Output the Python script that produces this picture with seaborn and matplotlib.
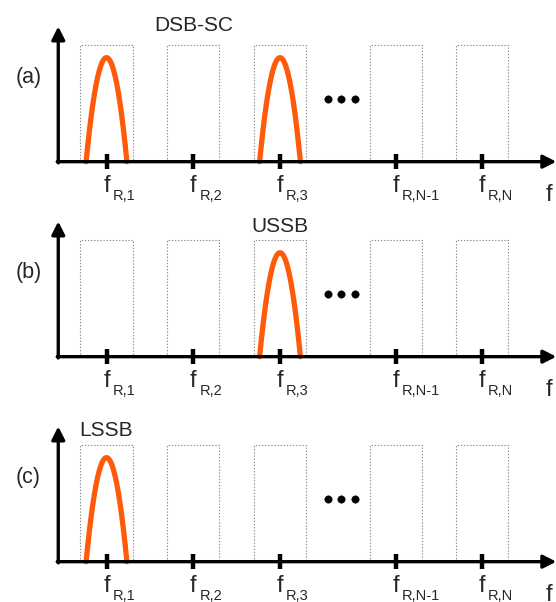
import numpy as np
import pandas as pd
import seaborn as sns
import matplotlib.pyplot as plt

# channel grid (units of channel spacing), subscripts of the tick labels
channel_pos = [1, 2, 3, 4.335, 5.33]
channel_sub = ["R,1", "R,2", "R,3", "R,N-1", "R,N"]

# which channels carry a signal in each panel
panel_names = ["(a)", "(b)", "(c)"]
panel_titles = ["DSB-SC", "USSB", "LSSB"]
panel_active = [[1, 3], [3], [1]]

hump_height = 1.0
hump_halfwidth = 0.235
slot_halfwidth = 0.3
slot_height = 1.12

ORANGE = "#ff5a0a"


def draw_panel(ax, name, title, active, title_xy):
    ax.set_xlim(-0.2277, 6.1816)
    ax.set_ylim(-0.385, 1.394)
    ax.axis("off")

    # dotted channel slots
    for p in channel_pos:
        ax.plot([p - slot_halfwidth, p - slot_halfwidth, p + slot_halfwidth, p + slot_halfwidth],
                [0, slot_height, slot_height, 0],
                color="#8a8a8a", lw=0.8, ls=(0, (1.2, 1.6)), zorder=1)

    # signal humps
    rows = []
    for ch in active:
        c = channel_pos[ch - 1]
        xs = np.linspace(c - hump_halfwidth, c + hump_halfwidth, 80)
        ys = hump_height * (1 - ((xs - c) / hump_halfwidth) ** 2)
        rows.append(pd.DataFrame({"x": xs, "y": ys, "ch": ch}))
    df = pd.concat(rows)
    sns.lineplot(data=df, x="x", y="y", units="ch", estimator=None, sort=False,
                 color=ORANGE, lw=3.8, ax=ax, legend=False, zorder=3)

    # axes with arrows
    x0 = 0.444
    arrow = dict(arrowstyle="-|>,head_length=0.55,head_width=0.28",
                 lw=2.4, color="black", mutation_scale=14, shrinkA=0, shrinkB=0)
    ax.annotate("", xy=(x0, 1.30), xytext=(x0, -0.012), arrowprops=arrow,
                annotation_clip=False, zorder=4)
    ax.annotate("", xy=(6.185, 0), xytext=(x0 - 0.012, 0), arrowprops=arrow,
                annotation_clip=False, zorder=4)

    # tick marks
    ax.vlines(channel_pos, -0.07, 0.075, color="black", lw=3.2, zorder=5)

    # tick labels
    for p, s in zip(channel_pos, channel_sub):
        ax.text(p, -0.29, "f", ha="center", va="baseline", fontsize=17)
        ax.text(p + 0.07, -0.365, s, ha="left", va="baseline", fontsize=10.5)
    ax.text(6.1, -0.38, "f", ha="center", va="baseline", fontsize=17)

    # ellipsis dots
    sns.scatterplot(x=[3.55, 3.705, 3.86], y=[0.605] * 3, s=28, color="black",
                    edgecolor="black", ax=ax, legend=False, zorder=5)

    ax.text(0.10, 0.81, name, ha="center", va="center", fontsize=15.5)
    ax.text(title_xy[0], title_xy[1], title, ha="center", va="center", fontsize=15)


sns.set_theme(style="white")
plt.rcParams["font.family"] = ["Liberation Sans", "DejaVu Sans"]

fig = plt.figure(figsize=(5.56, 6.02), dpi=100)
baselines = [161.7, 356.7, 561.7]
title_pos = [(2.0, 1.31), (3.0, 1.25), (1.0, 1.26)]
for name, title, active, base, tp in zip(panel_names, panel_titles, panel_active, baselines, title_pos):
    bottom = (602 - (base + 40)) / 602
    ax = fig.add_axes([0, bottom, 1, 185 / 602])
    draw_panel(ax, name, title, active, tp)

fig.savefig("out.png", dpi=100)
